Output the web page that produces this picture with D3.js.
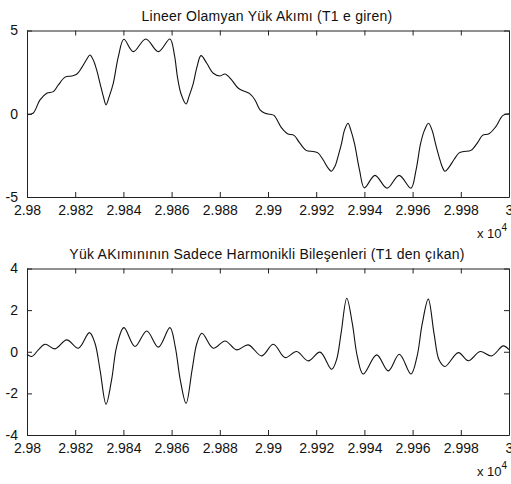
<!DOCTYPE html>
<html>
<head>
<meta charset="utf-8">
<script src="https://cdn.jsdelivr.net/npm/d3@7"></script>
<style>
  body { margin: 0; background: #fff; }
  text { font-family: "Liberation Sans", Arial, sans-serif; fill: #111; }
</style>
</head>
<body>
<svg id="chart" width="511" height="484"></svg>
<script>
// x values are in units of 10^4
var topX = [2.98, 2.98025, 2.98054, 2.98082, 2.98109, 2.98130, 2.98158, 2.98185, 2.98206, 2.98227,
  2.98248, 2.98261, 2.98275, 2.98289, 2.98303, 2.98317, 2.98328, 2.98341, 2.98358, 2.98379,
  2.98402, 2.98441, 2.98493, 2.98545, 2.98593, 2.98612, 2.98624, 2.98639, 2.98660, 2.98672,
  2.98690, 2.98705, 2.98722, 2.98746, 2.98773, 2.98801, 2.98822, 2.98849, 2.98877, 2.98905,
  2.98925, 2.98946, 2.98967, 2.98988, 2.99008, 2.99025, 2.99054, 2.99081, 2.99108, 2.99129,
  2.99158, 2.99187, 2.99207, 2.99228, 2.99249, 2.99263, 2.99278, 2.99290, 2.99305, 2.99317,
  2.99332, 2.99344, 2.99359, 2.99380, 2.99400, 2.99444, 2.99494, 2.99544, 2.99593, 2.99614,
  2.99633, 2.99649, 2.99666, 2.99681, 2.99695, 2.99710, 2.99722, 2.99734, 2.99749, 2.99772,
  2.99793, 2.99813, 2.99842, 2.99871, 2.99890, 2.99917, 2.99944, 2.99975, 3.0];
var topY = [-0.05, 0.03, 0.83, 1.23, 1.33, 1.73, 2.2, 2.27, 2.37, 2.77,
  3.27, 3.53, 3.23, 2.63, 1.83, 1.03, 0.53, 1.03, 1.83, 3.43,
  4.47, 3.73, 4.49, 3.73, 4.49, 3.5, 2.23, 1.2, 0.59, 1.03,
  1.83, 2.8, 3.49, 3.03, 2.43, 2.27, 2.39, 2.03, 1.53, 1.33,
  1.19, 0.83, 0.23, 0.03, -0.03, -0.1, -0.8, -1.2, -1.3, -1.7,
  -2.2, -2.27, -2.35, -2.75, -3.25, -3.45, -3.15, -2.6, -1.8, -1.0,
  -0.57, -1.0, -1.8, -3.4, -4.45, -3.7, -4.47, -3.7, -4.47, -3.4,
  -1.8, -1.0, -0.57, -1.0, -1.8, -2.6, -3.15, -3.45, -3.25, -2.75,
  -2.35, -2.27, -2.2, -1.7, -1.3, -1.2, -0.8, -0.1, 0.0];

var botX = [2.98, 2.98020, 2.98047, 2.98075, 2.98116, 2.98165, 2.98213, 2.98259, 2.98282, 2.98303,
  2.98328, 2.98351, 2.98372, 2.98402, 2.98448, 2.98497, 2.98545, 2.98593, 2.98615, 2.98636,
  2.98660, 2.98685, 2.98705, 2.98726, 2.98773, 2.98822, 2.98870, 2.98918, 2.98974, 2.99022,
  2.99071, 2.99119, 2.99167, 2.99216, 2.99264, 2.99284, 2.99303, 2.99327, 2.99350, 2.99371,
  2.99395, 2.99451, 2.99499, 2.99545, 2.99593, 2.99618, 2.99640, 2.99665, 2.99689, 2.99710,
  2.99734, 2.99790, 2.99831, 2.99880, 2.99928, 2.99976, 3.0];
var botY = [-0.12, -0.23, 0.09, 0.36, 0.14, 0.57, 0.17, 0.92, 0.41, -0.87,
  -2.52, -1.35, 0.25, 1.16, 0.25, 1.0, 0.22, 1.16, 0.25, -1.35,
  -2.48, -0.87, 0.41, 0.89, 0.17, 0.52, 0.09, 0.33, -0.2, 0.36,
  -0.28, 0.01, -0.44, -0.02, -0.84, -0.4, 0.87, 2.57, 1.35, -0.25,
  -1.07, -0.15, -0.92, -0.12, -1.07, -0.25, 1.35, 2.53, 0.87, -0.4,
  -0.71, -0.04, -0.43, 0.01, -0.2, 0.28, 0.1];

var xTicks = [2.98, 2.982, 2.984, 2.986, 2.988, 2.99, 2.992, 2.994, 2.996, 2.998, 3];
var topYTicks = [-5, 0, 5];
var botYTicks = [-4, -2, 0, 2, 4];
var topTitle = "Lineer Olamyan Yük Akımı (T1 e giren)";
var botTitle = "Yük AKımınının Sadece Harmonikli Bileşenleri (T1 den çıkan)";

var svg = d3.select("#chart");
svg.append("rect").attr("width", 511).attr("height", 484).attr("fill", "#fff");

// plain hyphen minus, like the original
var fmt = function(d) { return String(d); };

var drawPanel = function(opt) {
  var x = d3.scaleLinear().domain([2.98, 3]).range([27, 509]);
  var y = d3.scaleLinear().domain(opt.yDomain).range([opt.bottom, opt.top]);
  var g = svg.append("g");

  var pts = opt.xs.map(function(v, i) { return [v, opt.ys[i]]; });
  var line = d3.line()
    .x(function(d) { return x(d[0]); })
    .y(function(d) { return y(d[1]); })
    .curve(d3.curveCatmullRom.alpha(0.5));
  g.append("path")
    .datum(pts)
    .attr("d", line)
    .attr("fill", "none")
    .attr("stroke", "#111")
    .attr("stroke-width", 1.1);

  // box axes, ticks pointing in
  g.append("g").attr("transform", "translate(0," + opt.bottom + ")")
    .call(d3.axisBottom(x).tickValues(xTicks).tickSizeInner(-5).tickSizeOuter(0).tickPadding(8).tickFormat(fmt));
  g.append("g").attr("transform", "translate(0," + opt.top + ")")
    .call(d3.axisTop(x).tickValues(xTicks).tickSizeInner(-5).tickSizeOuter(0).tickFormat(""));
  g.append("g").attr("transform", "translate(27,0)")
    .call(d3.axisLeft(y).tickValues(opt.yTicks).tickSizeInner(-5).tickSizeOuter(0).tickPadding(9).tickFormat(fmt));
  g.append("g").attr("transform", "translate(509,0)")
    .call(d3.axisRight(y).tickValues(opt.yTicks).tickSizeInner(-5).tickSizeOuter(0).tickFormat(""));

  g.selectAll(".domain").attr("stroke", "#222");
  g.selectAll(".tick line").attr("stroke", "#222");
  g.selectAll(".tick text").attr("font-size", 14).attr("fill", "#111")
    .attr("font-family", "Liberation Sans, Arial, sans-serif");

  g.append("text")
    .attr("x", 267).attr("y", opt.top - 10)
    .attr("text-anchor", "middle")
    .attr("font-size", 14)
    .attr("letter-spacing", 0.25)
    .text(opt.title);

  var ex = g.append("text")
    .attr("x", 477).attr("y", opt.bottom + 41)
    .attr("font-size", 13);
  ex.append("tspan").text("x 10");
  ex.append("tspan").attr("dy", -7).attr("font-size", 10).text("4");
};

drawPanel({ xs: topX, ys: topY, yDomain: [-5, 5], yTicks: topYTicks, top: 30.5, bottom: 197, title: topTitle });
drawPanel({ xs: botX, ys: botY, yDomain: [-4, 4], yTicks: botYTicks, top: 268.5, bottom: 435, title: botTitle });
</script>
</body>
</html>
